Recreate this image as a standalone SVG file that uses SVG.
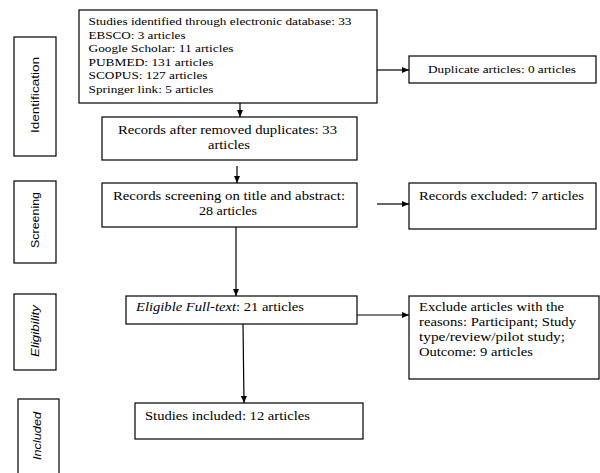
<svg xmlns="http://www.w3.org/2000/svg" width="600" height="473" viewBox="0 0 600 473">
<defs>
<marker id="ah" markerWidth="7" markerHeight="6" refX="7" refY="3" orient="auto" markerUnits="userSpaceOnUse">
<path d="M0,0 L7,3 L0,6 Z" fill="#000"/>
</marker>
<style>
.box{fill:#fff;stroke:#000;stroke-width:1.2}
.t{font-family:"Liberation Serif","Times New Roman",serif;fill:#000}
.s{font-size:11px}
.m{font-size:12px}
.lab{font-family:"Liberation Sans",Arial,sans-serif;font-size:11px;fill:#000}
.c{stroke:#000;stroke-width:1.2;fill:none;marker-end:url(#ah)}
</style>
</defs>
<rect width="600" height="473" fill="#fff"/>

<g id="phase-identification">
<rect class="box" x="14" y="37" width="42" height="119"/>
<text class="lab" transform="translate(39,95) rotate(-90)" text-anchor="middle" textLength="76" lengthAdjust="spacingAndGlyphs">Identification</text>
</g>
<g id="phase-screening">
<rect class="box" x="14" y="181" width="42" height="82"/>
<text class="lab" transform="translate(39,220) rotate(-90)" text-anchor="middle" textLength="56" lengthAdjust="spacingAndGlyphs">Screening</text>
</g>
<g id="phase-eligibility">
<rect class="box" x="14" y="294" width="42" height="76"/>
<text class="lab" transform="translate(39,331) rotate(-90)" text-anchor="middle" font-style="italic" textLength="52" lengthAdjust="spacingAndGlyphs">Eligibility</text>
</g>
<g id="phase-included">
<rect class="box" x="18" y="399" width="41" height="80"/>
<text class="lab" transform="translate(41,436) rotate(-90)" text-anchor="middle" font-style="italic" textLength="48" lengthAdjust="spacingAndGlyphs">Included</text>
</g>

<g id="identified">
<rect class="box" x="79" y="10" width="298" height="93"/>
<text class="t s" x="88.5" y="25" textLength="263" lengthAdjust="spacingAndGlyphs">Studies identified through electronic database: 33</text>
<text class="t s" x="88.5" y="38.5" textLength="97" lengthAdjust="spacingAndGlyphs">EBSCO: 3 articles</text>
<text class="t s" x="88.5" y="52" textLength="145" lengthAdjust="spacingAndGlyphs">Google Scholar: 11 articles</text>
<text class="t s" x="88.5" y="65.5" textLength="125" lengthAdjust="spacingAndGlyphs">PUBMED: 131 articles</text>
<text class="t s" x="88.5" y="79" textLength="119" lengthAdjust="spacingAndGlyphs">SCOPUS: 127 articles</text>
<text class="t s" x="88.5" y="92.5" textLength="125" lengthAdjust="spacingAndGlyphs">Springer link: 5 articles</text>
</g>
<g id="duplicates">
<rect class="box" x="409" y="56" width="187" height="27"/>
<text class="t s" x="428" y="73" textLength="148" lengthAdjust="spacingAndGlyphs">Duplicate articles: 0 articles</text>
</g>
<g id="after-duplicates">
<rect class="box" x="102" y="117" width="255" height="43"/>
<text class="t m" x="118" y="134" textLength="219" lengthAdjust="spacingAndGlyphs">Records after removed duplicates: 33</text>
<text class="t m" x="208" y="149" textLength="42" lengthAdjust="spacingAndGlyphs">articles</text>
</g>
<g id="screening">
<rect class="box" x="102" y="183" width="255" height="44"/>
<text class="t m" x="113" y="200" textLength="232" lengthAdjust="spacingAndGlyphs">Records screening on title and abstract:</text>
<text class="t m" x="199" y="215" textLength="58" lengthAdjust="spacingAndGlyphs">28 articles</text>
</g>
<g id="excluded">
<rect class="box" x="409" y="183" width="187" height="46"/>
<text class="t m" x="419" y="200" textLength="165" lengthAdjust="spacingAndGlyphs">Records excluded: 7 articles</text>
</g>
<g id="eligible">
<rect class="box" x="126" y="296" width="231" height="28"/>
<text class="t m" x="136" y="311" textLength="168" lengthAdjust="spacingAndGlyphs"><tspan font-style="italic">Eligible Full-text</tspan>: 21 articles</text>
</g>
<g id="exclude-reasons">
<rect class="box" x="409" y="296" width="190" height="83"/>
<text class="t m" x="419" y="311" textLength="145" lengthAdjust="spacingAndGlyphs">Exclude articles with the</text>
<text class="t m" x="419" y="326" textLength="157" lengthAdjust="spacingAndGlyphs">reasons: Participant; Study</text>
<text class="t m" x="419" y="341" textLength="146" lengthAdjust="spacingAndGlyphs">type/review/pilot study;</text>
<text class="t m" x="419" y="356" textLength="114" lengthAdjust="spacingAndGlyphs">Outcome: 9 articles</text>
</g>
<g id="included">
<rect class="box" x="135" y="403" width="228" height="36"/>
<text class="t m" x="145" y="420" textLength="165" lengthAdjust="spacingAndGlyphs">Studies included: 12 articles</text>
</g>

<g id="connectors">
<line class="c" x1="240" y1="103" x2="240" y2="117"/>
<line class="c" x1="377" y1="70" x2="409" y2="70"/>
<line class="c" x1="237" y1="166" x2="237" y2="183"/>
<line class="c" x1="377" y1="204" x2="409" y2="204"/>
<line class="c" x1="236" y1="227" x2="236" y2="296"/>
<line class="c" x1="357" y1="315" x2="409" y2="315"/>
<line class="c" x1="243" y1="324" x2="244" y2="403"/>
</g>
</svg>
